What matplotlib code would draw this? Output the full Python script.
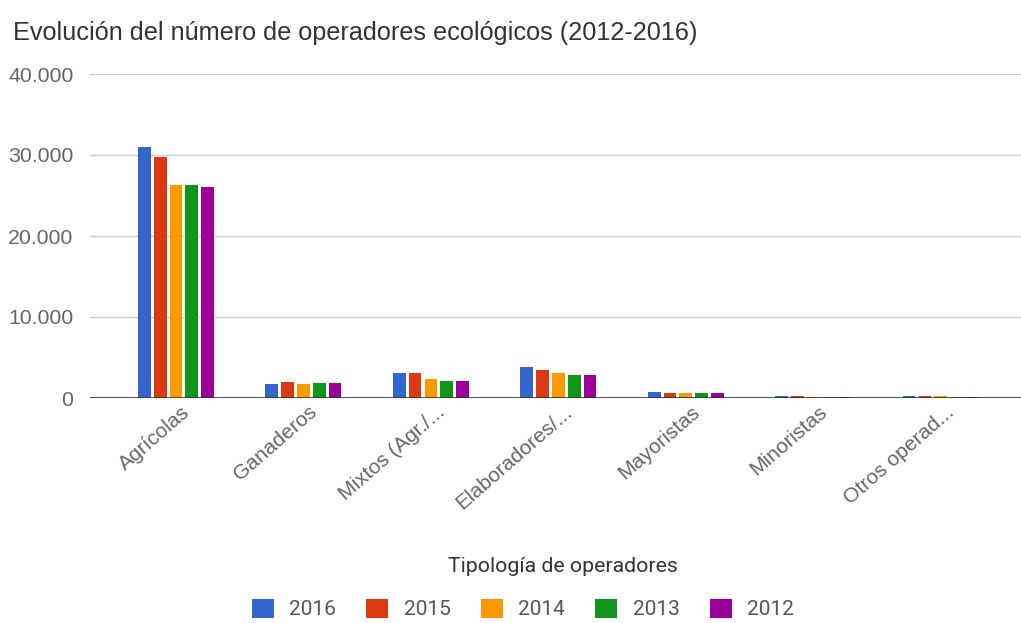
import numpy as np
import matplotlib
matplotlib.use("Agg")
import matplotlib.pyplot as plt
from matplotlib.ticker import FuncFormatter
from matplotlib.patches import Patch

plt.rcParams["font.family"] = ["Roboto", "DejaVu Sans"]
ARIAL = ["Liberation Sans", "DejaVu Sans"]

categories = ["Agrícolas", "Ganaderos", "Mixtos (Agr./...", "Elaboradores/...",
              "Mayoristas", "Minoristas", "Otros operad..."]
years = ["2016", "2015", "2014", "2013", "2012"]
colors = ["#3366cc", "#dc3912", "#ff9900", "#109618", "#990099"]

# operators per year, one list per series
v2016 = [31000, 1700, 3100, 3800, 800, 300, 300]
v2015 = [29700, 2000, 3100, 3400, 600, 300, 300]
v2014 = [26300, 1700, 2400, 3100, 600, 100, 300]
v2013 = [26300, 1900, 2100, 2900, 600, 100, 100]
v2012 = [26000, 1900, 2100, 2900, 600, 100, 100]
series = [v2016, v2015, v2014, v2013, v2012]

fig = plt.figure(figsize=(10.21, 6.23), dpi=100)
ax = fig.add_axes([90 / 1021, 1 - 398 / 623, 1 - 90 / 1021, (398 - 74) / 623])

x = np.arange(len(categories))
step = 0.124
width = 0.1
for i, (vals, col, yr) in enumerate(zip(series, colors, years)):
    ax.bar(x + (i - 2) * step, vals, width=width, color=col, label=yr, zorder=3)

ax.set_ylim(0, 40000)
ax.set_xlim(-0.675, 6.63)
ax.set_yticks(range(0, 40001, 10000))
ax.yaxis.set_major_formatter(FuncFormatter(lambda v, p: f"{int(v):,}".replace(",", ".")))
ax.grid(axis="y", color="#cccccc", linewidth=1, zorder=0)
ax.axhline(0, color="#333333", linewidth=1.2, zorder=4)
for s in ax.spines.values():
    s.set_visible(False)
ax.tick_params(axis="y", length=0, pad=12, labelsize=15.3, labelcolor="#666666")
ax.tick_params(axis="x", length=0, pad=3, labelsize=15, labelcolor="#666666")
for lab in ax.get_yticklabels():
    lab.set_family(ARIAL)

ax.set_xticks(x + 0.04)
ax.set_xticklabels(categories, rotation=41, ha="right", rotation_mode="anchor", family=ARIAL)

fig.text(13 / 1021, 1 - 33 / 623, "Evolución del número de operadores ecológicos (2012-2016)",
         fontsize=18.2, color="#333333", va="center", ha="left", family=ARIAL)
fig.text(563 / 1021, 1 - 566 / 623, "Tipología de operadores",
         fontsize=15.3, color="#333333", va="center", ha="center")

handles = [Patch(facecolor=c, label=y) for c, y in zip(colors, years)]
fig.legend(handles=handles, loc="center", bbox_to_anchor=(523 / 1021, 1 - 609 / 623),
           ncol=5, frameon=False, fontsize=15, handlelength=1.05, handleheight=1.05,
           handletextpad=0.75, columnspacing=1.45, labelcolor="#555555")

fig.savefig("out.png", dpi=100)
